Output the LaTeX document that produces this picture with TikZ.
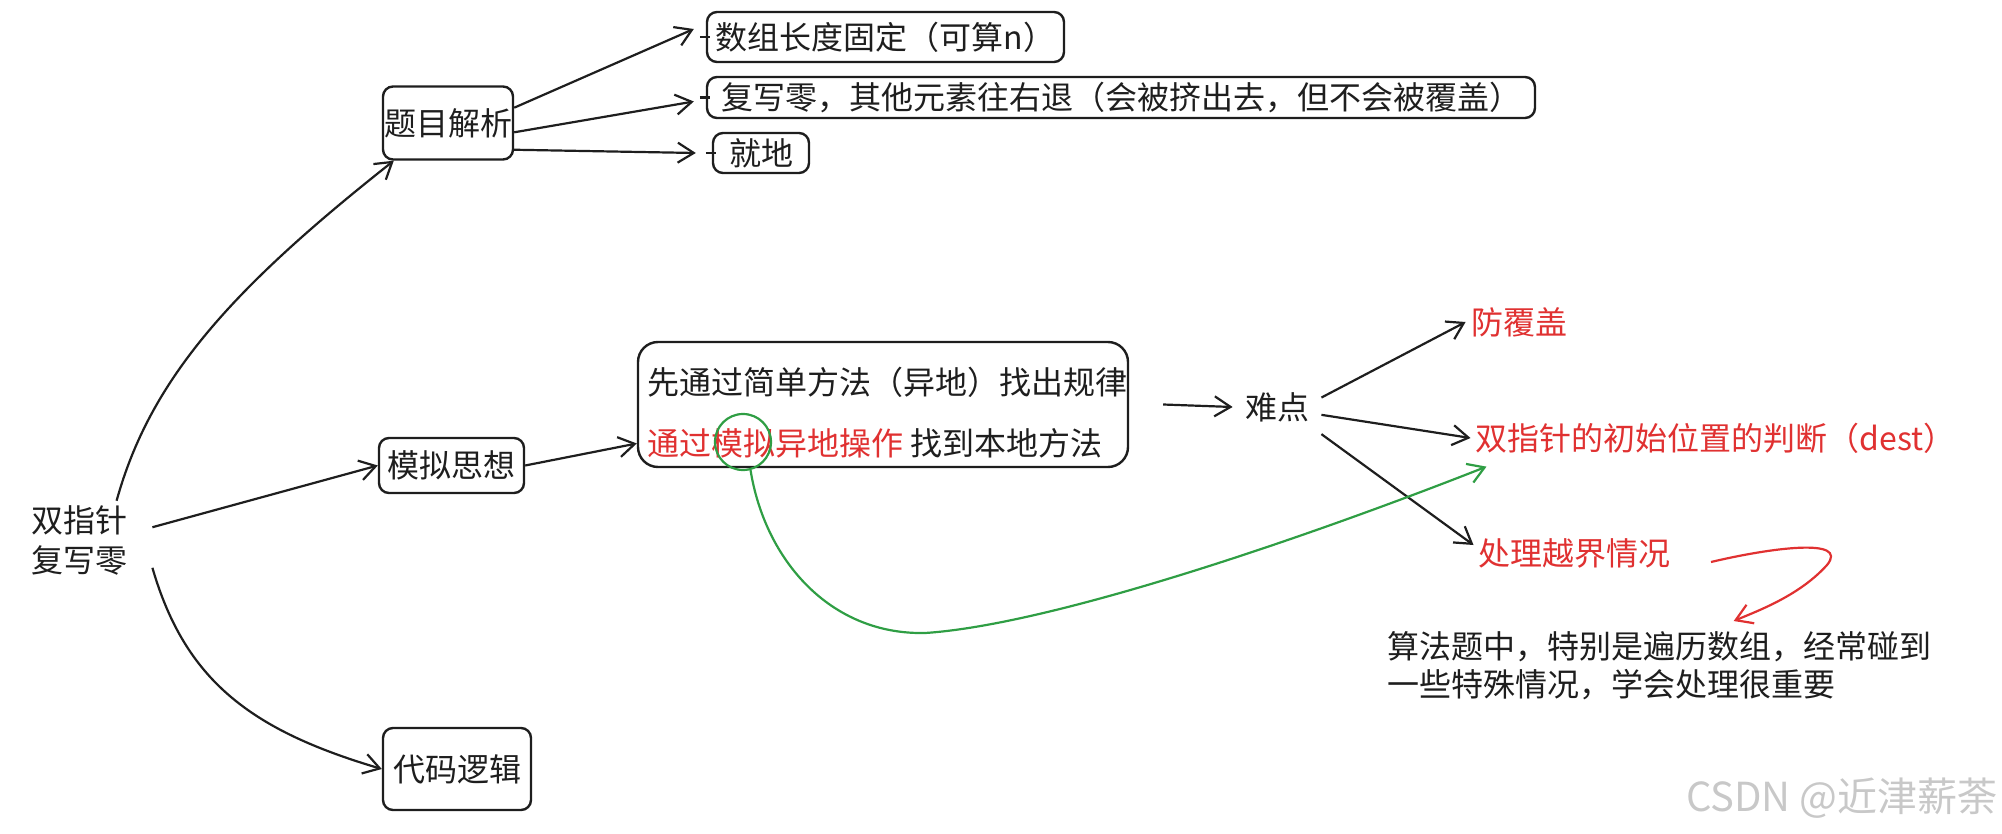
\documentclass[tikz,border=0pt]{standalone}
\usepackage{fontspec}
\newfontfamily\cjk{Noto Sans CJK SC}
\usetikzlibrary{arrows.meta,calc}
\definecolor{ink}{HTML}{1E1E1E}
\definecolor{exred}{HTML}{E03131}
\definecolor{exgreen}{HTML}{2F9E44}
\definecolor{wm}{HTML}{C8C8C8}
\begin{document}
\begin{tikzpicture}[x=0.5pt,y=-0.5pt,
  every node/.style={font=\cjk\fontsize{16pt}{20pt}\selectfont, text=ink},
  box/.style={draw=ink, line width=1.2pt, rounded corners=5pt, inner sep=0pt},
  lbl/.style={inner sep=2.5pt},
  tip/.style={-{Straight Barb[length=8pt,width=10pt,line width=1.1pt]}},
  arr/.style={draw=ink, line width=1.1pt, tip},
  garr/.style={draw=exgreen, line width=1.1pt, tip},
  rarr/.style={draw=exred, line width=1.1pt, tip},
  tick/.style={draw=ink, line width=1.1pt}
]
\useasboundingbox (0,0) rectangle (2002,834);

% nodes
\node[lbl, inner xsep=12pt, inner ysep=2pt, align=center] (root) at (80,540) {双指针\\复写零};
\node[box, minimum width=65pt, minimum height=36.5pt] (tm) at (448,123) {题目解析};
\node[box, minimum width=178.5pt, minimum height=25pt] (a1) at (885.5,37) {数组长度固定（可算n）};
\node[box, minimum width=414pt, minimum height=20.5pt] (a2) at (1121,97.5) {复写零，其他元素往右退（会被挤出去，但不会被覆盖）};
\node[box, minimum width=48pt, minimum height=20pt] (a3) at (761,153) {就地};
\node[box, minimum width=72.5pt, minimum height=27.5pt] (mn) at (451.5,465.5) {模拟思想};
\node[box, minimum width=74pt, minimum height=41pt] (dm) at (457,769) {代码逻辑};
\node[box, rounded corners=10pt, minimum width=245pt, minimum height=62.5pt] (sim) at (883,404.5) {};
\node[anchor=west, inner sep=0pt] (s1) at (647,382) {先通过简单方法（异地）找出规律};
\node[anchor=west, inner sep=0pt] (s2) at (647,443) {\textcolor{exred}{通过模拟异地操作} 找到本地方法};
\node[circle, draw=exgreen, line width=1.1pt, minimum size=28pt, inner sep=0pt] (cm) at (743,442) {};
\node[inner sep=6pt] (nd) at (1277,407) {难点};
\node[lbl, text=exred] (f1) at (1519,322) {防覆盖};
\node[lbl, text=exred, anchor=west] (f2) at (1470.5,438) {双指针的初始位置的判断（dest）};
\node[lbl, text=exred, anchor=west] (f3) at (1473.5,553) {处理越界情况};
\node[anchor=north west, align=left, inner sep=0pt, font=\cjk\fontsize{16pt}{19pt}\selectfont] (note) at (1387,631) {算法题中，特别是遍历数组，经常碰到\\一些特殊情况，学会处理很重要};
\node[anchor=east, text=wm, inner sep=0pt, font=\cjk\fontsize{20pt}{24pt}\selectfont] (wmk) at (1998,798) {CSDN @近津薪荼};

% connectors
\draw[arr] (root.47) .. controls (150,380) and (230,290) .. ([xshift=6pt]tm.south west);
\draw[arr] (root.10) -- (mn.west);
\draw[arr] (root.-21) .. controls (185,680) and (250,730) .. (dm.west);
\draw[arr] (tm.13) -- ([xshift=-6pt,yshift=4pt]a1.west);
\draw[arr] (tm.-8) -- ([xshift=-6pt,yshift=-2pt]a2.west);
\draw[arr] (tm.-22) -- ([xshift=-8pt]a3.west);
\draw[tick] ([xshift=-3pt]a1.west) -- ([xshift=2pt]a1.west);
\draw[tick] ([xshift=-3pt]a2.west) -- ([xshift=2pt]a2.west);
\draw[tick] ([xshift=-3pt]a3.west) -- ([xshift=2pt]a3.west);
\draw[arr] (mn.east) -- (sim.-171);
\draw[arr] ([xshift=17pt]sim.east) -- (nd.west);
\draw[arr] (nd.12) -- (f1.west);
\draw[arr] (nd.-10) -- (f2.west);
\draw[arr] (nd.south east) -- ([yshift=4pt]f3.west);
\draw[garr] (cm.-75) .. controls (765,560) and (830,635) .. (925,633) .. controls (1050,625) and (1300,540) .. ([xshift=8pt,yshift=-4pt]f2.south west);
\coordinate (rs) at (1711,562);
\draw[rarr] (rs) .. controls (1770,548) and (1850,537) .. (1827,565) .. controls (1800,595) and (1760,610) .. ([yshift=5pt]note.25);
\end{tikzpicture}
\end{document}
